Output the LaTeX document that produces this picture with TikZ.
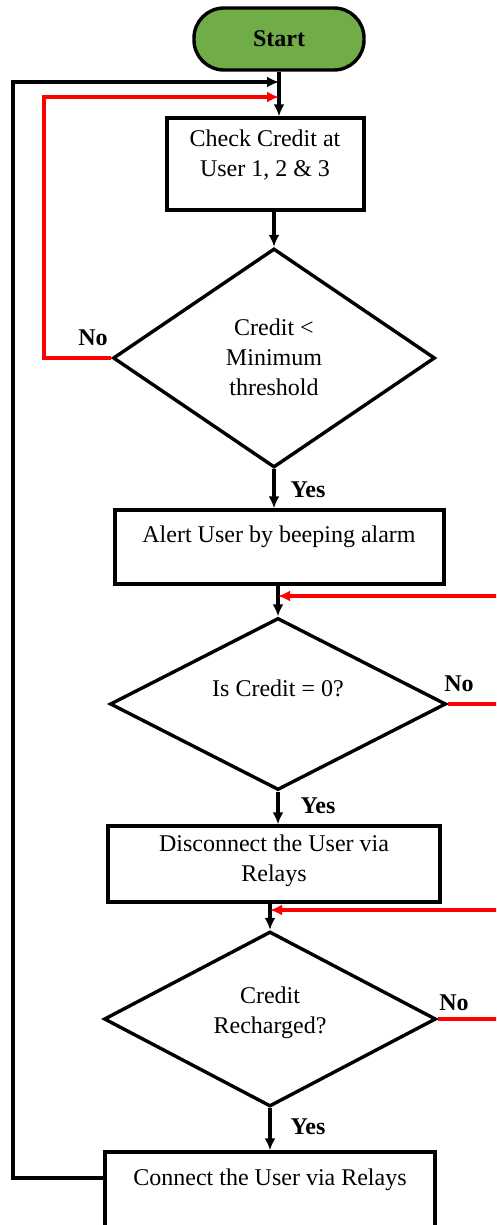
\documentclass[tikz,border=0pt]{standalone}
\usepackage{fontspec}
\setmainfont{Liberation Serif}
\usepackage{xcolor}
\usetikzlibrary{shapes.geometric,arrows.meta}
\definecolor{startgreen}{HTML}{70AD47}

\begin{document}
\begin{tikzpicture}[
        x=1pt, y=-1pt,
        every node/.style = {font=\fontsize{24}{30}\selectfont},
        terminal/.style = {rectangle, rounded corners=30pt, draw, fill=startgreen,
                           minimum width=170pt, minimum height=62pt,
                           font=\fontsize{24}{30}\selectfont\bfseries},
        process/.style = {rectangle, draw, inner sep=0pt},
        decision/.style = {diamond, draw, inner sep=0pt},
        txt/.style = {align=center, inner sep=0pt},
        tag/.style = {font=\fontsize{24}{30}\selectfont\bfseries, inner sep=0pt},
        flow/.style = {-{Latex[length=12pt,width=11pt]}},
        redloop/.style = {flow, red},
            line width=3.4pt
    ]
        \clip (0,0) rectangle (496,1225);

        % shapes
        \node[terminal] (start) at (279,39) {Start};
        \node[process, minimum width=197pt, minimum height=92pt] (check) at (265.5,164) {};
        \node[decision, minimum width=322pt, minimum height=219pt] (thresh) at (274,358) {};
        \node[process, minimum width=329pt, minimum height=74pt] (alert) at (279.5,547) {};
        \node[decision, minimum width=336pt, minimum height=172pt] (zero) at (278,704) {};
        \node[process, minimum width=332pt, minimum height=76pt] (cut) at (274,864) {};
        \node[decision, minimum width=332pt, minimum height=175pt] (recharge) at (270,1019) {};
        \node[process, minimum width=330pt, minimum height=108pt] (connect) at (270,1206) {};

        % texts
        \node[txt] (check-txt) at (265,155) {Check Credit at\\User 1, 2 \& 3};
        \node[txt] (thresh-txt) at (274,357) {Credit <\\Minimum\\threshold};
        \node[txt] (alert-txt) at (279,537) {Alert User by beeping alarm};
        \node[txt] (zero-txt) at (278,688) {Is Credit = 0?};
        \node[txt] (cut-txt) at (274,861) {Disconnect the User via\\Relays};
        \node[txt] (recharge-txt) at (270,1013) {Credit\\Recharged?};
        \node[txt] (connect-txt) at (270,1180) {Connect the User via Relays};

        \node[tag] (no1) at (93,338) {No};
        \node[tag] (no2) at (459,684) {No};
        \node[tag] (no3) at (454,1003) {No};
        \node[tag] (yes1) at (308,490) {Yes};
        \node[tag] (yes2) at (318,806) {Yes};
        \node[tag] (yes3) at (308,1127) {Yes};

        % main flow
        \draw[flow] (start) -- (start |- check.north);
        \draw[flow] (thresh.north |- check.south) -- (thresh.north);
        \draw[flow] (thresh.south) -- (thresh.south |- alert.north);
        \draw[flow] (zero.north |- alert.south) -- (zero.north);
        \draw[flow] (zero.south) -- (zero.south |- cut.north);
        \draw[flow] (recharge.north |- cut.south) -- (recharge.north);
        \draw[flow] (recharge.south) -- (recharge.south |- connect.north);

        % loops back
        \coordinate (blackleft) at (13,82);
        \coordinate (redleft) at (44,97);
        \coordinate (redright1) at (520,596);
        \coordinate (redright2) at (520,910);
        \draw[flow] ([yshift=28pt]connect.west) -| (blackleft) -- (start.south |- blackleft);
        \draw[redloop] (thresh.west) -| (redleft) -- (start.south |- redleft);
        \draw[redloop] (zero.east) -| (redright1) -- (zero.north |- redright1);
        \draw[redloop] (recharge.east) -| (redright2) -- (recharge.north |- redright2);
    \end{tikzpicture}
\end{document}
